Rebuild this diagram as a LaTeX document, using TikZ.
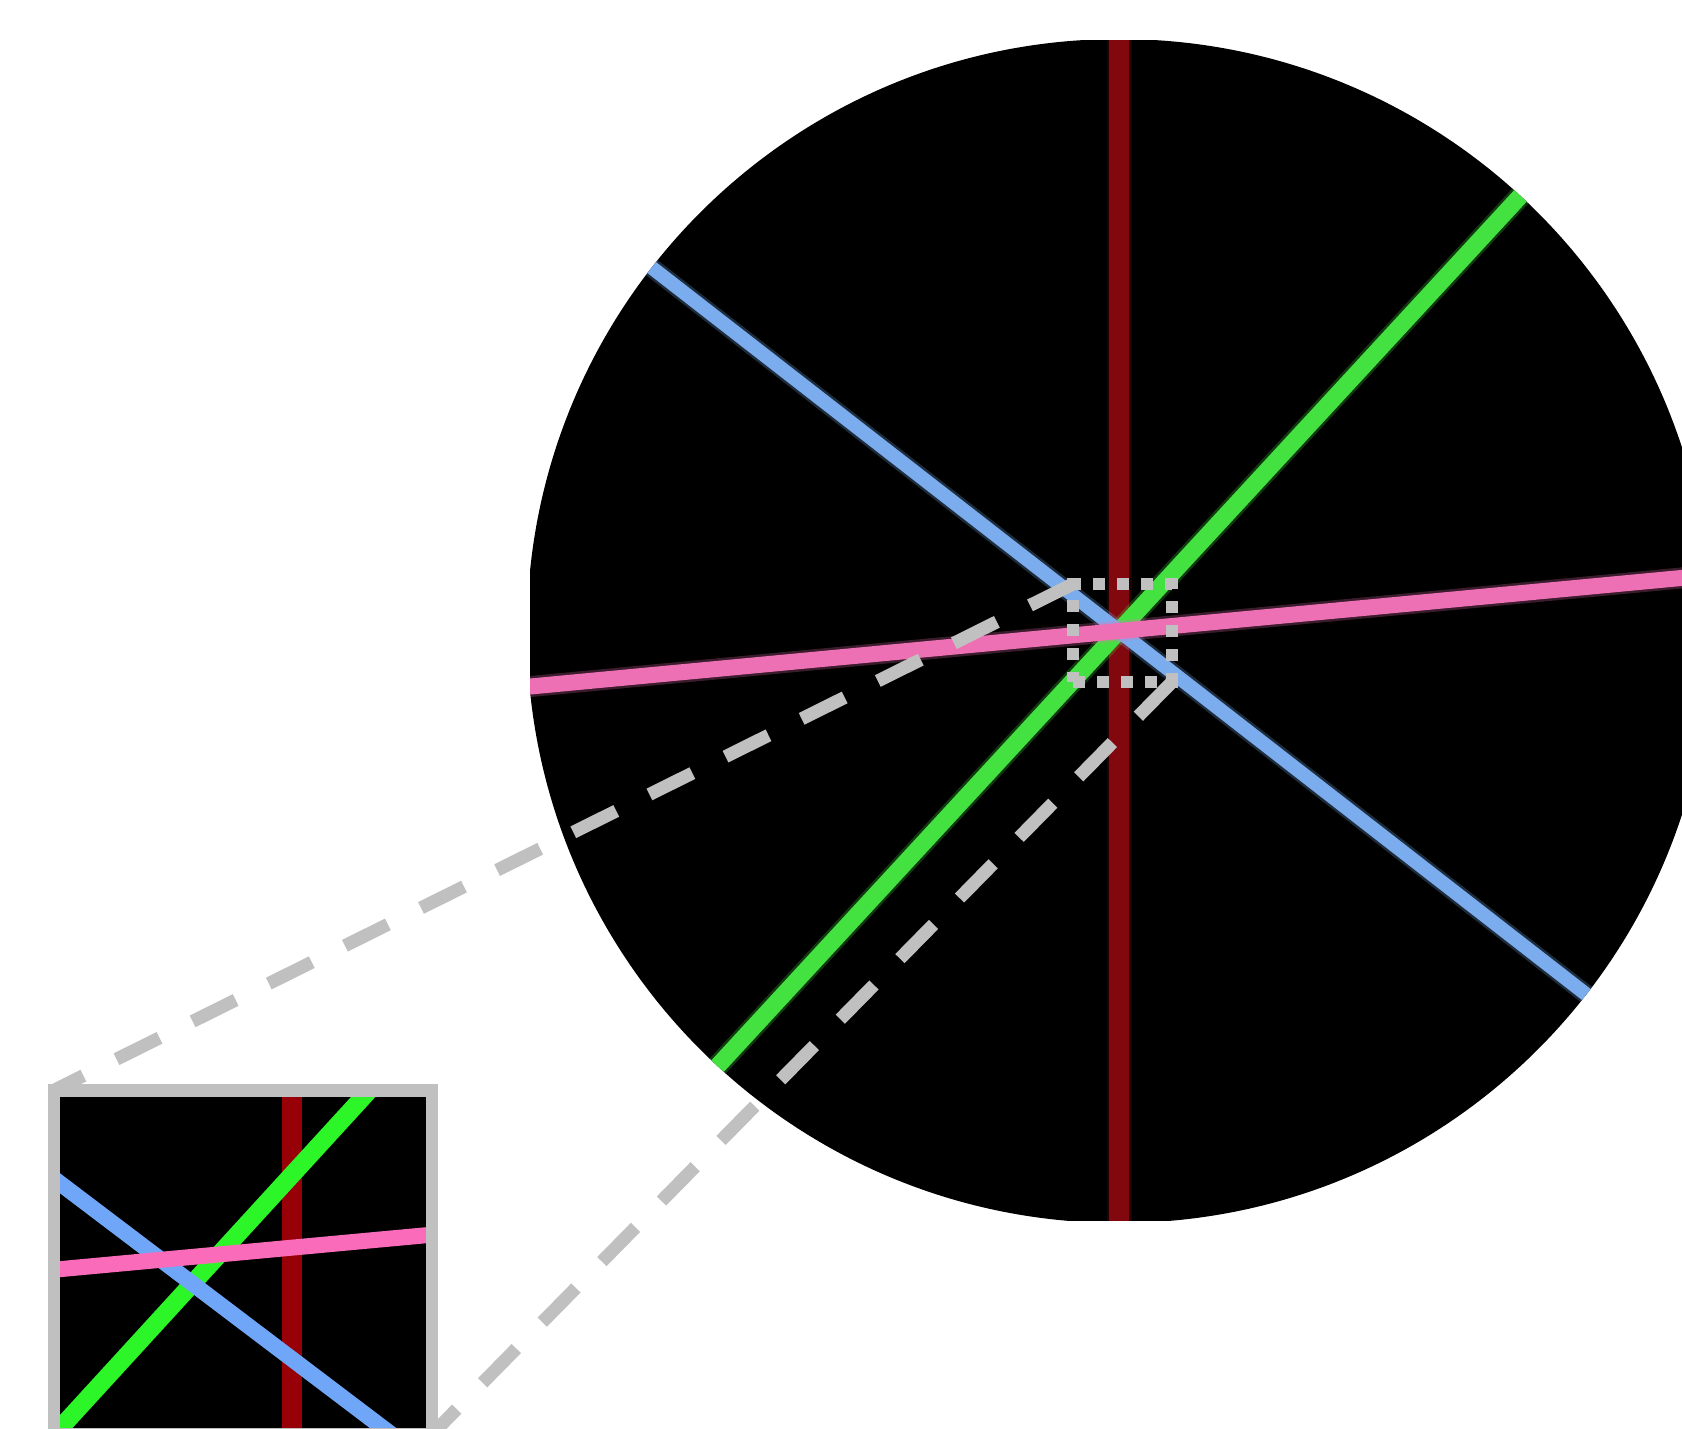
\documentclass[tikz,border=0pt]{standalone}
\definecolor{beamred}{RGB}{128,8,14}
\definecolor{beamgreen}{RGB}{68,226,64}
\definecolor{beamblue}{RGB}{122,172,238}
\definecolor{beampink}{RGB}{238,112,180}
\definecolor{insred}{RGB}{150,0,6}
\definecolor{insgreen}{RGB}{44,246,40}
\definecolor{insblue}{RGB}{112,166,248}
\definecolor{inspink}{RGB}{250,108,186}
\definecolor{zoomgray}{RGB}{192,192,192}
\tikzset{
  beam/.style n args={2}{draw=#1, line width=#2, line cap=butt},
  glow/.style n args={2}{draw=#1, line width=#2, line cap=butt, opacity=0.25},
  dotbox/.style={draw=zoomgray, line width=12pt, dash pattern=on 12pt off 12pt,
    inner sep=0pt, outer sep=0pt, minimum width=99pt, minimum height=98pt},
  connector/.style={draw=zoomgray, line width=13pt, dash pattern=on 48pt off 37pt},
  insetframe/.style={draw=zoomgray, line width=12.5pt, inner sep=0pt, outer sep=0pt,
    minimum width=378pt, minimum height=344pt},
}
\begin{document}
\begin{tikzpicture}[x=1pt,y=-1pt]
\useasboundingbox (0,0) rectangle (1682,1428);
\fill[white] (0,0) rectangle (1682,1428);
% main disk
\begin{scope}
  \clip (530,40) rectangle (1682,1220);
  \clip (1119,631) circle (592);
  \fill[black] (1119,631) circle (600);
  \draw[glow={beamred}{25pt}] (1119,0) -- (1119,1300);
  \draw[beam={beamred}{20pt}] (1119,0) -- (1119,1300);
  \draw[glow={beamgreen}{22pt}] (678,1109) -- (1560,153);
  \draw[beam={beamgreen}{17pt}] (678,1109) -- (1560,153);
  \draw[glow={beamblue}{19pt}] (606,232) -- (1632,1030);
  \draw[beam={beamblue}{14pt}] (606,232) -- (1632,1030);
  \draw[glow={beampink}{21pt}] (472,692) -- (1766,570);
  \draw[beam={beampink}{16pt}] (472,692) -- (1766,570);
\end{scope}
% inset
\begin{scope}
  \clip (60,1097) rectangle (426,1440);
  \fill[black] (60,1097) rectangle (426,1440);
  \draw[beam={insred}{20pt}] (292,1080) -- (292,1450);
  \draw[beam={insgreen}{18pt}] (31,1460) -- (397,1060);
  \draw[beam={insblue}{16pt}] (20,1153) -- (420,1456);
  \draw[beam={inspink}{16pt}] (40,1271) -- (450,1233);
\end{scope}
\node[insetframe] (ins) at (243,1262.25) {};
% zoom box and connectors
\node[dotbox] (zb) at (1122.5,633) {};
\draw[connector] (zb.north west) -- (ins.north west);
\draw[connector] (zb.south east) -- (ins.south east);
\end{tikzpicture}
\end{document}
